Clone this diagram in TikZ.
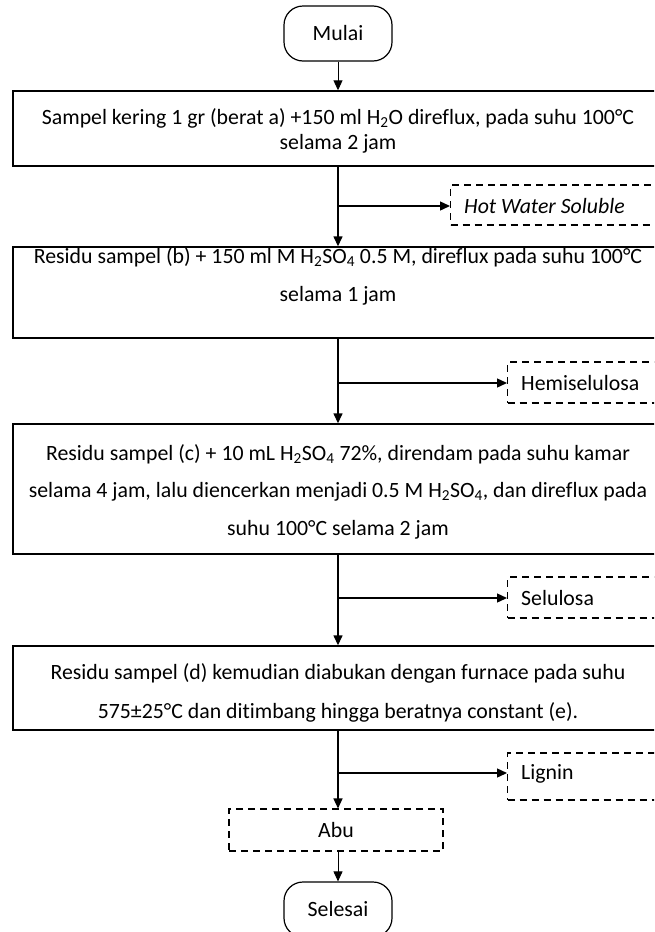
\documentclass[tikz,border=0pt]{standalone}
\usepackage{fontspec}
\setmainfont{Carlito}[Ligatures=NoCommon]
\usetikzlibrary{arrows.meta}
\tikzset{
  every node/.style={font=\fontsize{21.8}{26}\selectfont, inner sep=0pt},
  procbox/.style={draw, line width=1.4pt, minimum width=650pt},
  termbox/.style={draw, line width=1.2pt, rounded corners=19pt, minimum width=108pt, minimum height=55pt},
  outbox/.style={draw, line width=1.1pt, dash pattern=on 7pt off 5pt, anchor=west},
  flow/.style={line width=1.4pt, -{Triangle[length=10pt,width=9pt]}},
  thinflow/.style={line width=0.9pt, -{Triangle[length=10pt,width=9pt]}},
  linetext/.style={anchor=center},
  outtext/.style={anchor=west}
}
\begin{document}
\begin{tikzpicture}[x=1pt,y=-1pt]
\useasboundingbox (0,0) rectangle (654,932);
\clip (0,0) rectangle (654,932);

% terminals
\node[termbox] (mulai) at (338,33.5) {Mulai};
\node[termbox] (selesai) at (338,909.5) {Selesai};

% process boxes
\node[procbox, minimum height=75pt] (b1) at (338,128.5) {};
\node[linetext] (b1l1) at (338,118) {Sampel kering 1 gr (berat a) +150 ml H\textsubscript{2}O direflux, pada suhu 100°C};
\node[linetext] (b1l2) at (338,144) {selama 2 jam};

\node[procbox, minimum height=91pt] (b2) at (338,292.5) {};
\node[linetext] (b2l1) at (338,257) {Residu sampel (b) + 150 ml M H\textsubscript{2}SO\textsubscript{4} 0.5 M, direflux pada suhu 100°C};
\node[linetext] (b2l2) at (338,296) {selama 1 jam};

\node[procbox, minimum height=130pt] (b3) at (338,489) {};
\node[linetext] (b3l1) at (338,454) {Residu sampel (c) + 10 mL H\textsubscript{2}SO\textsubscript{4} 72\%, direndam pada suhu kamar};
\node[linetext] (b3l2) at (338,492) {selama 4 jam, lalu diencerkan menjadi 0.5 M H\textsubscript{2}SO\textsubscript{4}, dan direflux pada};
\node[linetext] (b3l3) at (338,530) {suhu 100°C selama 2 jam};

\node[procbox, minimum height=84pt] (b4) at (338,688) {};
\node[linetext] (b4l1) at (338,673) {Residu sampel (d) kemudian diabukan dengan furnace pada suhu};
\node[linetext] (b4l2) at (338,712) {575±25°C dan ditimbang hingga beratnya constant (e).};

% output boxes
\node[outbox, minimum width=260pt, minimum height=40pt] (hws) at (450,205) {};
\node[outtext] (hwst) at (464,206) {\itshape Hot Water Soluble};
\node[outbox, minimum width=200pt, minimum height=41pt] (hemi) at (507,382.5) {};
\node[outtext] (hemit) at (521,383) {Hemiselulosa};
\node[outbox, minimum width=200pt, minimum height=41pt] (selu) at (507,597.5) {};
\node[outtext] (selut) at (521,598) {Selulosa};
\node[outbox, minimum width=200pt, minimum height=47pt] (lig) at (507,776.5) {};
\node[outtext] (ligt) at (521,774) {Lignin};
\node[draw, line width=1.1pt, dash pattern=on 7pt off 5pt, minimum width=214pt, minimum height=42pt] (abu) at (336,830) {Abu};

% junctions
\coordinate (j1) at (338,206);
\coordinate (j2) at (338,383);
\coordinate (j3) at (338,598);
\coordinate (j4) at (338,773);

% connectors
\draw[thinflow] (mulai.south) -- (b1.north);
\draw[flow] (b1.south) -- (b2.north);
\draw[flow] (j1) -- (hws.west |- j1);
\draw[flow] (b2.south) -- (b3.north);
\draw[flow] (j2) -- (hemi.west |- j2);
\draw[flow] (b3.south) -- (b4.north);
\draw[flow] (j3) -- (selu.west |- j3);
\draw[flow] (b4.south) -- (b4.south |- abu.north);
\draw[flow] (j4) -- (lig.west |- j4);
\draw[thinflow] (abu.south -| selesai.north) -- (selesai.north);
\end{tikzpicture}
\end{document}
